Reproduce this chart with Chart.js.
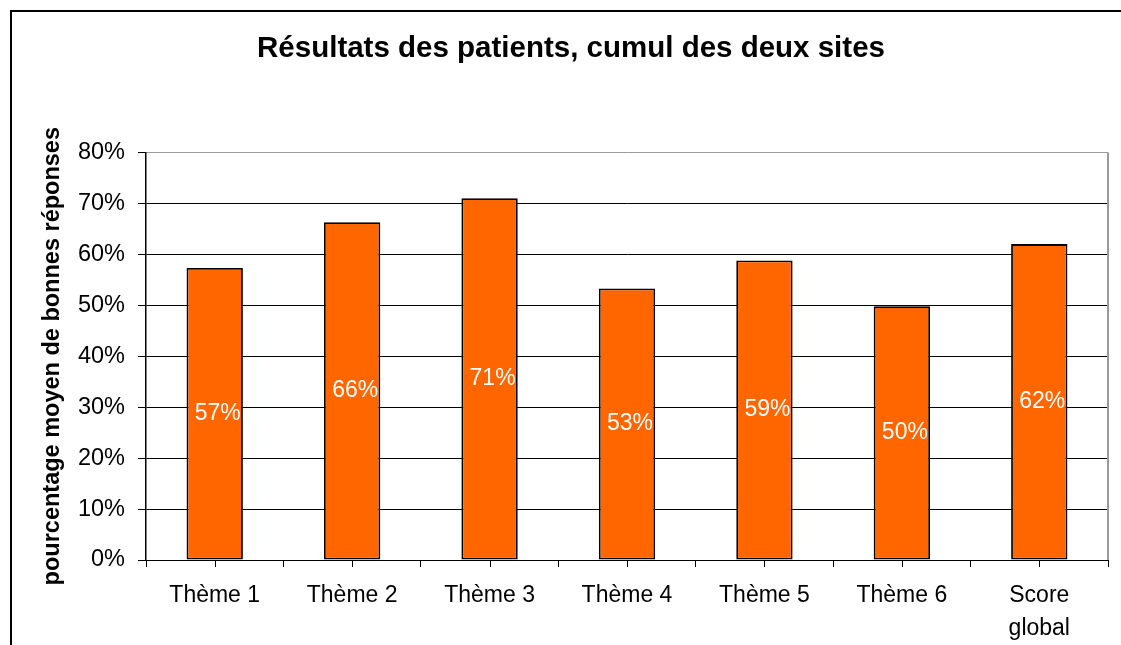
<!DOCTYPE html>
<html>
<head>
<meta charset="utf-8">
<script src="https://cdn.jsdelivr.net/npm/chart.js@4"></script>
<style>
	html, body { margin: 0; padding: 0; background: #fff; overflow: hidden; }
	#wrap { position: relative; width: 1121px; height: 645px; }
	#frame { position: absolute; left: 10px; top: 10px; width: 1130px; height: 650px; border: 2px solid #000; }
	canvas { position: absolute; left: 0; top: 0; }
</style>
</head>
<body>
<div id="wrap">
	<div id="frame"></div>
	<canvas id="chart" width="1121" height="645"></canvas>
</div>
<script>
// categories en waarden (in %)
const categories = ["Thème 1", "Thème 2", "Thème 3", "Thème 4", "Thème 5", "Thème 6", ["Score", "global"]];
const scores = [57.3, 66.3, 71.0, 53.3, 58.8, 49.8, 62.0];
const yTicks = [0, 10, 20, 30, 40, 50, 60, 70, 80];

const FONT = "'Liberation Sans', Arial, sans-serif";

// labels in het midden van elke balk
const barLabels = {
	id: "barLabels",
	afterDatasetsDraw(chart) {
		const ctx = chart.ctx;
		const meta = chart.getDatasetMeta(0);
		ctx.save();
		ctx.fillStyle = "#fff";
		ctx.font = "23px " + FONT;
		ctx.textAlign = "center";
		ctx.textBaseline = "middle";
		meta.data.forEach((bar, i) => {
			const y = (bar.y + bar.base) / 2;
			ctx.fillText(Math.round(scores[i]) + "%", bar.x + 3, y);
		});
		ctx.restore();
	},
};

// grijze rand rechts + extra streepjes onder de categorieën
const plotExtras = {
	id: "plotExtras",
	afterDraw(chart) {
		const ctx = chart.ctx;
		const area = chart.chartArea;
		const xScale = chart.scales.x;
		ctx.save();
		ctx.strokeStyle = "#9a9a9a";
		ctx.lineWidth = 2;
		ctx.beginPath();
		ctx.moveTo(area.right, area.top);
		ctx.lineTo(area.right, area.bottom);
		ctx.stroke();
		ctx.strokeStyle = "#000";
		ctx.lineWidth = 1;
		ctx.beginPath();
		categories.forEach((c, i) => {
			const x = Math.round(xScale.getPixelForValue(i)) + 0.5;
			ctx.moveTo(x, area.bottom);
			ctx.lineTo(x, area.bottom + 7);
		});
		ctx.stroke();
		ctx.restore();
	},
};

new Chart(document.getElementById("chart").getContext("2d"), {
	type: "bar",
	data: {
		labels: categories,
		datasets: [
			{
				data: scores,
				backgroundColor: "#ff6600",
				borderColor: "#000",
				borderWidth: 1.8,
				borderSkipped: false,
				barPercentage: 0.41,
				categoryPercentage: 1,
			},
		],
	},
	options: {
		responsive: false,
		animation: false,
		layout: { padding: { left: 34, right: 13, top: 10, bottom: 0 } },
		plugins: {
			legend: { display: false },
			tooltip: { enabled: false },
			title: {
				display: true,
				text: "Résultats des patients, cumul des deux sites",
				color: "#000",
				font: { family: FONT, size: 29.5, weight: "bold" },
				padding: { top: 21, bottom: 86 },
			},
		},
		scales: {
			x: {
				grid: {
					display: true,
					drawOnChartArea: false,
					offset: true,
					tickLength: 7,
					color: "#000",
				},
				border: { display: true, color: "#000", width: 1 },
				ticks: {
					color: "#000",
					padding: 13,
					font: { family: FONT, size: 23, lineHeight: 1.4 },
					maxRotation: 0,
					autoSkip: false,
				},
				afterFit(scale) {
					scale.height = 85;
				},
			},
			y: {
				min: 0,
				max: 80,
				afterBuildTicks(scale) {
					scale.ticks = yTicks.map((v) => ({ value: v }));
				},
				grid: {
					color: (c) => (c.tick && c.tick.value === 80 ? "#9a9a9a" : "#000"),
					tickColor: "#000",
					tickLength: 8,
				},
				border: { display: true, color: "#000", width: 1.5 },
				ticks: {
					color: "#000",
					padding: 13,
					font: { family: FONT, size: 23.5 },
					callback: (v) => v + "%",
				},
				title: {
					display: true,
					text: "pourcentage moyen de bonnes réponses",
					color: "#000",
					font: { family: FONT, size: 23.5, weight: "bold" },
				},
				afterFit(scale) {
					scale.width = 112;
				},
			},
		},
	},
	plugins: [barLabels, plotExtras],
});
</script>
</body>
</html>
